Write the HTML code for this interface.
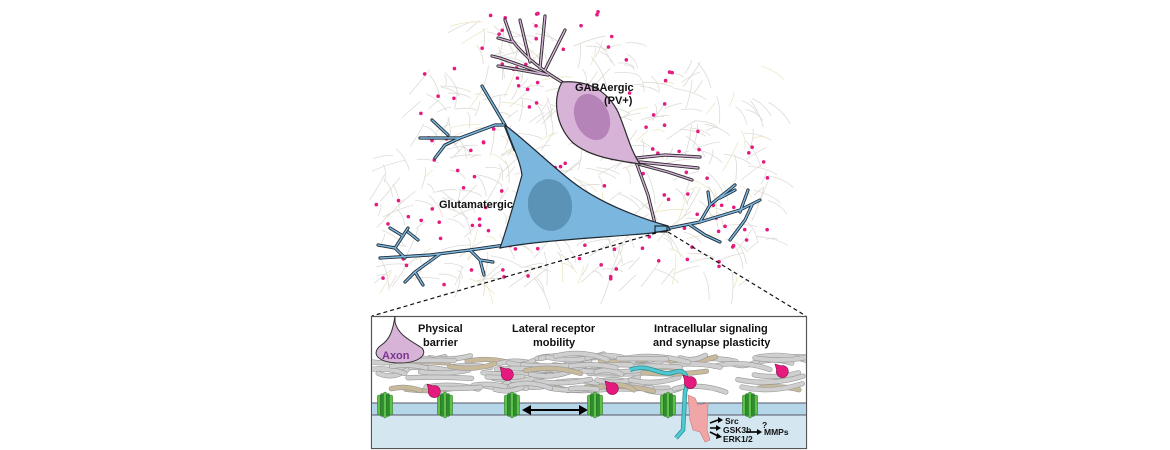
<!DOCTYPE html>
<html><head><meta charset="utf-8"><style>
html,body{margin:0;padding:0;background:#fff;width:1170px;height:450px;overflow:hidden}
svg{display:block}
text{font-family:"Liberation Sans",Arial,sans-serif;font-weight:bold;fill:#111}
use{fill:none;stroke-linecap:round;stroke-linejoin:round}
</style></head><body>
<svg id="s" width="1170" height="450" viewBox="0 0 1170 450">
<defs><clipPath id="cp"><rect x="372" y="317" width="434" height="131"/></clipPath>
<path id="gab" fill="none" d="M565,84 C545,72 525,58 512,40 L505,20 M530,62 L520,20 M540,68 L545,16 M545,70 L565,30 M512,42 L498,38 M548,75 L500,58 L492,56 M548,75 L498,66 M636,158 L665,155 L700,157 M640,162 L698,168 M638,164 L668,172 L692,180 M636,162 L648,195 L656,228"/>
<path id="gd" fill="none" d="M505,245 L470,250 L430,255 L380,258 M440,254 L415,272 L405,282 M415,272 L423,285 M470,250 L480,260 L484,275 M480,260 L493,262 M405,258 L395,248 L378,245 M395,248 L408,228 M403,236 L390,228 M408,232 L418,240 M515,150 L505,125 L482,86 M505,125 L495,125 L460,138 L420,138 M460,138 L445,145 L435,158 M448,135 L432,120 M650,232 L700,222 L740,210 L760,200 M700,222 L710,205 L735,185 M720,198 L735,190 M740,212 L748,190 M752,205 L745,220 L730,240 M690,225 L705,235 L720,242 M710,205 L708,192"/>
</defs>
<g id="fib" stroke="#d8d4cc" stroke-width="0.8" fill="none" opacity="0.8"></g>
<g id="dots" fill="#e6197f"></g>
<use href="#gab" stroke="#2b2b2b" stroke-width="3.2"/>
<use href="#gab" stroke="#d7b3d8" stroke-width="1.4"/>
<path d="M562,82 C552,100 556,125 572,142 C588,156 612,160 640,164 C630,150 626,130 618,112 C608,92 590,80 562,82 Z" fill="#d7b3d8" stroke="#2b2b2b" stroke-width="1.2"/>
<ellipse cx="592" cy="117" rx="17" ry="24" transform="rotate(-22 592 117)" fill="#b683b8"/>
<use href="#gd" stroke="#1f2a33" stroke-width="3.2"/>
<use href="#gd" stroke="#7bb6df" stroke-width="1.5"/>
<path d="M505,125 C512,145 520,160 522,175 C515,200 508,225 500,248 C540,240 600,238 652,233 L670,230 L668,226 C630,215 595,200 570,180 C545,160 525,140 505,125 Z" fill="#7bb6df" stroke="#1f2a33" stroke-width="1.2"/>
<ellipse cx="550" cy="205" rx="22" ry="26" transform="rotate(-10 550 205)" fill="#5b93b7"/>
<rect x="655" y="226" width="12" height="6" fill="none" stroke="#111" stroke-width="1"/>
<text x="575" y="91" font-size="11">GABAergic</text>
<text x="604" y="104" font-size="11">(PV+)</text>
<text x="439" y="208" font-size="11">Glutamatergic</text>
<path d="M656,233 L372,316 M668,232 L806,316" stroke="#111" stroke-width="1.2" stroke-dasharray="4,3"/>
<rect x="371.5" y="316.5" width="435" height="132" fill="#fff" stroke="#555" stroke-width="1.2"/>
<rect x="372" y="403" width="434" height="12" fill="#b5d6e8"/>
<rect x="372" y="415" width="434" height="33" fill="#d4e7f1"/>
<path d="M372,403 H806 M372,415 H806" stroke="#556" stroke-width="1"/>
<g id="pf" fill="none" stroke-linecap="round" clip-path="url(#cp)"></g>
<path d="M395,316 L395,322 C398,335 410,340 422,348 C428,355 418,363 400,363 C380,363 370,355 380,346 C390,340 393,330 395,316 Z" fill="#d7b3d8" stroke="#333" stroke-width="1"/>
<text x="382" y="359" font-size="11" style="fill:#7a3590">Axon</text>
<text x="418" y="332" font-size="11">Physical</text>
<text x="423" y="346" font-size="11">barrier</text>
<text x="512" y="332" font-size="11">Lateral receptor</text>
<text x="533" y="346" font-size="11">mobility</text>
<text x="654" y="332" font-size="11">Intracellular signaling</text>
<text x="653" y="346" font-size="11">and synapse plasticity</text>
<path d="M630,370 C650,362 660,378 675,372 C685,368 690,378 685,392 L683,430 L676,438" stroke="#2a8f95" stroke-width="4.5" fill="none"/>
<path d="M630,370 C650,362 660,378 675,372 C685,368 690,378 685,392 L683,430 L676,438" stroke="#4fc9cf" stroke-width="3" fill="none"/>
<path d="M688,395 L695,398 L698,405 L708,403 L707,430 L710,440 L705,442 L700,432 L693,430 L690,420 Z" fill="#f0a6a6" stroke="#c77" stroke-width="0.6"/>
<g stroke="#000" stroke-width="1.6" fill="#000">
<path d="M710,423 L718,420 M710,428 L716,428 M710,432 L718,436" />
<path d="M746,432 L757,432"/>
</g>
<polygon points="718,417 723,420 718,423"/>
<polygon points="716,425 721,428 716,431"/>
<polygon points="717,433 722,437 716,439"/>
<polygon points="757,429 762,432 757,435"/>
<text x="725" y="424" font-size="8.5">Src</text>
<text x="723" y="433" font-size="8.5">GSK3b</text>
<text x="723" y="442" font-size="8.5">ERK1/2</text>
<text x="762" y="428" font-size="8.5">?</text>
<text x="764" y="435" font-size="8.5">MMPs</text>
<path d="M528,410 H582" stroke="#000" stroke-width="2"/>
<polygon points="522,410 531,405 531,415" fill="#000"/>
<polygon points="588,410 579,405 579,415" fill="#000"/>
<g id="rec"></g>
<g id="pac"></g>
</svg>
<script>
var s=1234567;function r(){s=(s*16807)%2147483647;return s/2147483647;}
var ns="http://www.w3.org/2000/svg";
function el(p,t,a){var e=document.createElementNS(ns,t);for(var k in a)e.setAttribute(k,a[k]);document.getElementById(p).appendChild(e);return e;}
for(var i=0;i<500;i++){var x=380+r()*390,y=20+r()*260;
 var ok=(y>240? (x<780):true)&&(y<60? (x>470&&x<640):true)&&(y<140?(x>420):true);
 if(!ok)continue;var a=r()*Math.PI,l=10+r()*25;
 el("fib","path",{d:"M"+x+","+y+" q"+(l*0.5*Math.cos(a)+3)+","+(l*0.5*Math.sin(a)-3)+" "+(l*Math.cos(a))+","+(l*Math.sin(a)),stroke:r()<0.15?"#e8e2b8":"#d6d3cc"});}
for(var i=0;i<170;i++){var x=375+r()*395,y=10+r()*275;
 var ok=(y>250? (x<770):true)&&(y<60?(x>480&&x<630):true)&&(y<130?(x>420&&x<680):true)&&(y<200?(x>420):true);
 if(!ok)continue;el("dots","circle",{cx:x,cy:y,r:1.8});}
for(var i=0;i<90;i++){var x=360+r()*420,y=356+r()*34,l=25+r()*45,d=(r()-0.5)*14;
 var c=r()<0.2?"#c7b99a":"#cfcfcf";
 el("pf","path",{d:"M"+x+","+y+" q"+(l/2)+","+(d)+" "+l+","+(-d/2),stroke:"#999","stroke-width":5.2});
 el("pf","path",{d:"M"+x+","+y+" q"+(l/2)+","+(d)+" "+l+","+(-d/2),stroke:c,"stroke-width":4});}
[385,445,512,595,668,750].forEach(function(x){
 for(var j=-2;j<=2;j++){el("rec","rect",{x:x+j*3-1.6,y:392+Math.abs(j)*1.5,width:3.2,height:26-Math.abs(j)*3,rx:1.5,fill:j%2?"#2e8b2e":"#5cc24a",stroke:"#1d5e1d","stroke-width":0.4});}
});
[[427,384],[500,367],[605,381],[683,375],[775,364]].forEach(function(p){
 var x=p[0],y=p[1],R=6;
 el("pac","path",{d:"M"+x+","+y+" L"+(x+R*Math.cos(0.3))+","+(y+R*Math.sin(0.3))+" A"+R+","+R+" 0 1,1 "+(x+R*Math.cos(1.3))+","+(y+R*Math.sin(1.3))+" Z",fill:"#e6197f",stroke:"#8a0c4a","stroke-width":0.6});
});
</script>
</body></html>
